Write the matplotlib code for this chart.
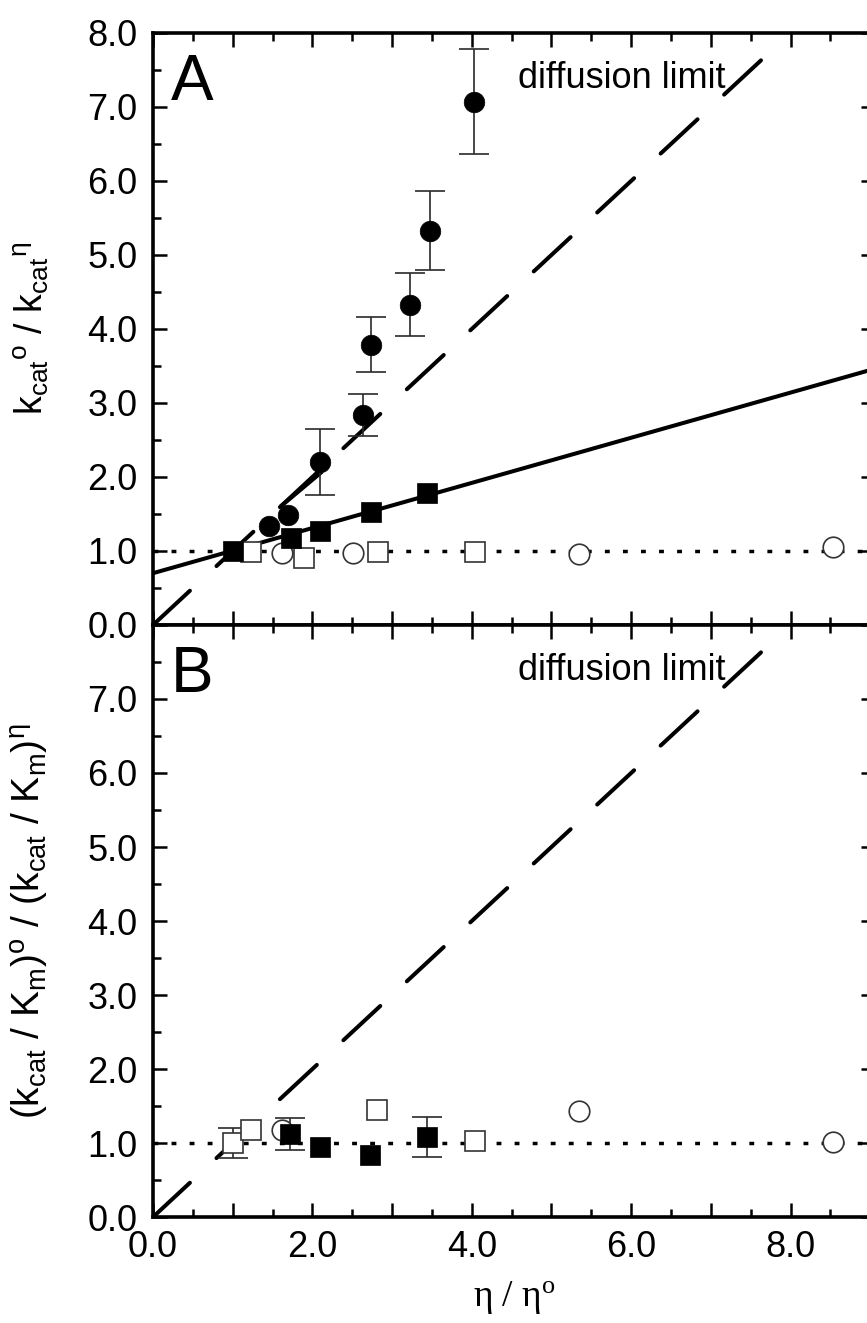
import matplotlib
matplotlib.use('Agg')
import matplotlib.pyplot as plt
import numpy as np
from matplotlib.ticker import MultipleLocator, FuncFormatter

plt.rcParams['font.family'] = ['Liberation Sans', 'DejaVu Sans']
plt.rcParams['mathtext.fontset'] = 'custom'
plt.rcParams['mathtext.rm'] = 'Liberation Sans'
plt.rcParams['mathtext.it'] = 'Liberation Sans:italic'

# ---------------- data ----------------
# Panel A : kcat(o) / kcat(eta)
A_fc_x = [1.45, 1.69, 2.10, 2.63, 2.74, 3.22, 3.48, 4.03]
A_fc_y = [1.34, 1.49, 2.20, 2.84, 3.79, 4.33, 5.33, 7.07]
A_fc_err = [0.0, 0.0, 0.45, 0.28, 0.37, 0.43, 0.53, 0.71]

A_fs_x = [1.00, 1.73, 2.10, 2.74, 3.44]
A_fs_y = [1.00, 1.18, 1.27, 1.53, 1.79]

A_os_x = [1.23, 1.90, 2.82, 4.04]
A_os_y = [0.98, 0.91, 0.98, 0.98]

A_oc_x = [1.62, 2.51, 5.35, 8.53]
A_oc_y = [0.97, 0.97, 0.96, 1.06]

A_fit_intercept = 0.70
A_fit_slope = 0.305
A_seg_x = [1.60, 2.12]
A_seg_y = [1.60, 2.07]

# Panel B : (kcat/Km)(o) / (kcat/Km)(eta)
B_fs_x = [1.72, 2.10, 2.72, 3.44]
B_fs_y = [1.12, 0.95, 0.84, 1.08]
B_fs_err = [0.22, 0.0, 0.0, 0.27]

B_os_x = [1.00, 1.23, 2.81, 4.04]
B_os_y = [1.00, 1.18, 1.45, 1.03]
B_os_err = [0.20, 0.0, 0.0, 0.0]

B_oc_x = [1.62, 5.35, 8.53]
B_oc_y = [1.17, 1.43, 1.02]

diff_x = [0.0, 7.7]
diff_y = [0.0, 7.7]
ref_level = 1.0

x_ticklabels = ['0.0', '', '2.0', '', '4.0', '', '6.0', '', '8.0', '']
XMAX = 9.06

# ---------------- figure ----------------
fig = plt.figure(figsize=(8.67, 13.23), dpi=100)
axA = fig.add_axes([0.1765, 0.5276, 0.8327, 0.4475])
axB = fig.add_axes([0.1765, 0.0801, 0.8327, 0.4475])

MS = 14.8
LW = 2.9
ecol = '#2a2a2a'


def errbars(ax, x, y, e):
    x = np.asarray(x); y = np.asarray(y); e = np.asarray(e)
    m = e > 0
    if m.any():
        ax.errorbar(x[m], y[m], yerr=e[m], fmt='none', ecolor=ecol,
                    elinewidth=1.2, capsize=11, capthick=1.2, zorder=3)


def style(ax):
    ax.set_xlim(0, XMAX)
    ax.set_ylim(0, 8)
    ax.xaxis.set_major_locator(MultipleLocator(1))
    ax.xaxis.set_minor_locator(MultipleLocator(0.5))
    ax.yaxis.set_major_locator(MultipleLocator(1))
    ax.yaxis.set_minor_locator(MultipleLocator(0.5))
    ax.tick_params(which='both', direction='in', top=True, right=True,
                   width=1.8, color='black')
    ax.tick_params(which='major', length=10)
    ax.tick_params(which='minor', length=6)
    ax.tick_params(axis='y', labelsize=26, pad=11)
    ax.tick_params(axis='x', labelsize=26, pad=9)
    for s in ax.spines.values():
        s.set_linewidth(2.6)
    ax.yaxis.set_major_formatter(FuncFormatter(lambda v, p: f'{v:.1f}'))


for ax in (axA, axB):
    style(ax)
    ax.axhline(ref_level, color='black', lw=2.5, linestyle=(0, (1.4, 3.8)),
               zorder=1)
    ax.plot(diff_x, diff_y, color='black', lw=LW, linestyle=(0, (12.5, 9.0)),
            dash_capstyle='round', zorder=1)
    ax.text(7.18, 7.25, 'diffusion limit', fontsize=26, ha='right',
            va='baseline')

# Panel A
xf = np.array([0, XMAX])
axA.plot(xf, A_fit_intercept + A_fit_slope * xf, color='black', lw=LW,
         solid_capstyle='butt', zorder=2)
axA.plot(A_seg_x, A_seg_y, color='black', lw=LW, solid_capstyle='butt', zorder=2)
errbars(axA, A_fc_x, A_fc_y, A_fc_err)
axA.plot(A_os_x, A_os_y, 's', ms=MS, mfc='white', mec='#333333', mew=1.2,
         zorder=4)
axA.plot(A_oc_x, A_oc_y, 'o', ms=MS, mfc='white', mec='#333333', mew=1.2,
         zorder=4)
axA.plot(A_fs_x, A_fs_y, 's', ms=MS, mfc='black', mec='black', mew=0.5,
         zorder=5)
axA.plot(A_fc_x, A_fc_y, 'o', ms=MS, mfc='black', mec='black', mew=0.5,
         zorder=5)
axA.text(0.22, 7.1, 'A', fontsize=46, va='baseline')
axA.set_xticklabels([])
axA.set_ylabel(r'k$\mathregular{_{cat}}$$\mathregular{^{o}}$ / k$\mathregular{_{cat}}$$\mathregular{^{η}}$',
               fontsize=27)
axA.yaxis.set_label_coords(-0.142, 0.5)

# Panel B
errbars(axB, B_fs_x, B_fs_y, B_fs_err)
errbars(axB, B_os_x, B_os_y, B_os_err)
axB.plot(B_os_x, B_os_y, 's', ms=MS, mfc='white', mec='#333333', mew=1.2,
         zorder=4)
axB.plot(B_oc_x, B_oc_y, 'o', ms=MS, mfc='white', mec='#333333', mew=1.2,
         zorder=4)
axB.plot(B_fs_x, B_fs_y, 's', ms=MS, mfc='black', mec='black', mew=0.5,
         zorder=5)
axB.text(0.22, 7.1, 'B', fontsize=46, va='baseline')
axB.set_xticks(np.arange(0, 10, 1.0))
axB.set_xticklabels(x_ticklabels)
axB.set_xlim(0, XMAX)
axB.set_yticks(np.arange(0, 9, 1.0))
axB.set_yticklabels([f'{v:.1f}' if v < 8 else '' for v in np.arange(0, 9, 1.0)])
axB.set_ylim(0, 8)
axB.set_ylabel(r'(k$\mathregular{_{cat}}$ / K$\mathregular{_{m}}$)$\mathregular{^{o}}$ / (k$\mathregular{_{cat}}$ / K$\mathregular{_{m}}$)$\mathregular{^{η}}$',
               fontsize=28)
axB.yaxis.set_label_coords(-0.142, 0.5)
axB.set_xlabel('η / η$\\mathregular{^{o}}$', fontsize=27,
               family='Liberation Serif', labelpad=11)

fig.savefig('out.png', dpi=100)
